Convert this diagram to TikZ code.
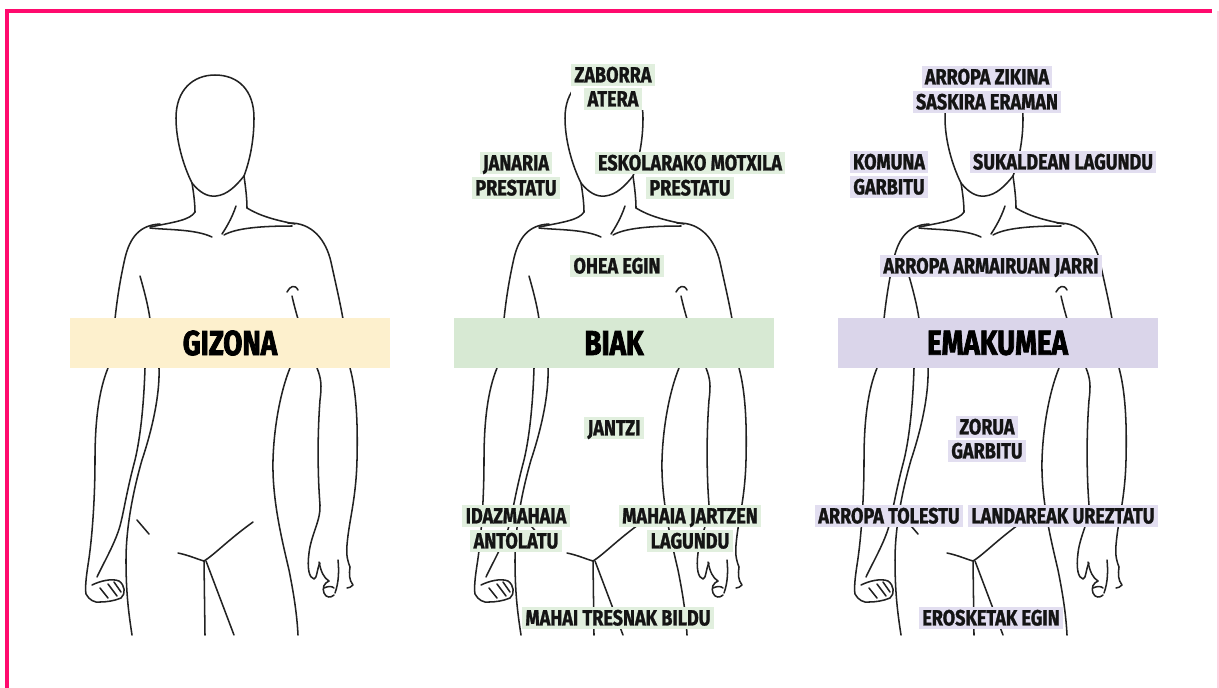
\documentclass[tikz,border=0pt]{standalone}
\usepackage{fontspec}
\newfontfamily\labfont{Fira Sans}[FakeStretch=0.82, BoldFeatures={FakeBold=1.2}]
\newfontfamily\bandfont{Fira Sans}[FakeStretch=0.8, BoldFeatures={FakeBold=2.2}]

\definecolor{framepink}{HTML}{FF0A6E}
\definecolor{framefaint}{HTML}{FFD3E2}
\definecolor{inkc}{HTML}{222222}
\definecolor{bandY}{HTML}{FDF0CD}
\definecolor{bandG}{HTML}{D7E9D3}
\definecolor{bandP}{HTML}{DAD5EA}
\definecolor{tagG}{HTML}{E1EFDE}
\definecolor{tagP}{HTML}{E2DEF0}

\pgfdeclarelayer{figures}
\pgfdeclarelayer{knockout}
\pgfsetlayers{figures,knockout,main}

\tikzset{
  ink/.style={draw=inkc, line width=1.15pt, line cap=round, line join=round},
  tag/.style={inner xsep=2.5pt, inner ysep=2.2pt, text height=11.4pt, text depth=0.3pt,
    font=\labfont\bfseries\fontsize{16.5}{18}\selectfont, text=black!92},
  tagG/.style={tag, fill=tagG},
  tagP/.style={tag, fill=tagP},
  band/.style={minimum width=240pt, minimum height=37.5pt, inner sep=0pt,
    font=\bandfont\bfseries\fontsize{26}{28}\selectfont, text=black},
  % standing figure, drawn in pixel units with y pointing down
  body/.pic={
    % head and chin
    \path[ink] (192,183) .. controls (183,165) and (176,140) .. (176,118)
      .. controls (176,90) and (193,75) .. (215,75)
      .. controls (238,75) and (254,90) .. (254,118)
      .. controls (254,140) and (250,160) .. (244,176);
    \path[ink] (192,183) .. controls (200,193) and (208,197) .. (216,196)
      .. controls (227,195) and (236,186) .. (244,176);
    % neck and shoulder line
    \path[ink] (192,183) .. controls (194,195) and (195,205) .. (195,212);
    \path[ink] (244,176) .. controls (246,190) and (247,200) .. (247,208);
    \path[ink] (195,212) .. controls (190,220) and (175,222) .. (150,227);
    \path[ink] (247,208) .. controls (260,216) and (275,220) .. (295,224);
    \path[ink] (236,206) .. controls (232,218) and (226,228) .. (222,234);
    % collarbones
    \path[ink] (150,228) .. controls (168,230) and (195,229) .. (212,237);
    \path[ink] (224,235) .. controls (236,228) and (262,226) .. (292,226);
    % upper arms
    \path[ink] (160,224) .. controls (140,225) and (130,237) .. (125,258)
      .. controls (120,280) and (117,300) .. (115,319);
    \path[ink] (288,223) .. controls (312,222) and (326,240) .. (331,262)
      .. controls (336,285) and (340,302) .. (343,319);
    \path[ink] (140,276) .. controls (144,290) and (148,305) .. (150,319);
    \path[ink] (287,292) .. controls (290,286) and (295,284) .. (298,290);
    \path[ink] (292,296) .. controls (294,305) and (296,312) .. (298,319);
    % left forearm and fist
    \path[ink] (108,368) .. controls (99,390) and (95,420) .. (95,460)
      .. controls (95,500) and (92,540) .. (88,565)
      .. controls (86,578) and (85,588) .. (86,594)
      .. controls (89,600) and (95,603) .. (100,602);
    \path[ink] (145,368) .. controls (144,400) and (141,435) .. (135,460)
      .. controls (127,490) and (124,510) .. (121,522)
      .. controls (117,540) and (104,562) .. (97,577);
    \path[ink] (92,585) .. controls (100,581) and (112,578) .. (119,581)
      .. controls (125,585) and (126,594) .. (121,598)
      .. controls (114,601) and (106,602) .. (100,602);
    \path[ink] (100,588) -- (108,598);
    \path[ink] (108,584) -- (117,596);
    \path[ink] (114,582) -- (121,592);
    % left side of torso and leg
    \path[ink] (159,368) .. controls (160,395) and (152,430) .. (142,460)
      .. controls (132,495) and (126,530) .. (126,560)
      .. controls (126,595) and (129,615) .. (132,635);
    \path[ink] (137,520) -- (149,534);
    % right forearm and hand
    \path[ink] (317,368) .. controls (321,378) and (322,385) .. (320,400)
      .. controls (317,440) and (318,480) .. (320,505)
      .. controls (321,520) and (311,535) .. (309,553)
      .. controls (307,568) and (309,578) .. (314,579)
      .. controls (317,579) and (317,568) .. (320,563);
    \path[ink] (319,562) .. controls (321,572) and (324,578) .. (329,581)
      .. controls (324,583) and (322,588) .. (324,593)
      .. controls (326,598) and (331,598) .. (334,595);
    \path[ink] (324,588) .. controls (328,586) and (332,586) .. (334,588);
    \path[ink] (338,560) .. controls (339,570) and (339,582) .. (335,593);
    \path[ink] (350,368) .. controls (356,390) and (358,420) .. (357,460)
      .. controls (356,500) and (349,520) .. (347,545)
      .. controls (346,556) and (348,562) .. (350,567)
      .. controls (349,574) and (349,580) .. (353,585)
      .. controls (351,587) and (349,588) .. (347,588);
    % right side of torso and leg
    \path[ink] (290,368) .. controls (281,390) and (274,425) .. (273,460)
      .. controls (272,500) and (282,540) .. (289,570)
      .. controls (294,595) and (297,615) .. (298,635);
    % groin and inner legs
    \path[ink] (178,553) .. controls (188,555) and (197,559) .. (204,561)
      .. controls (214,555) and (228,540) .. (253,522);
    \path[ink] (204,561) -- (205,635);
    \path[ink] (206,561) -- (234,635);
  }
}

\begin{document}
\begin{tikzpicture}[x=0.75pt, y=-0.75pt]
  \useasboundingbox (0,0) rectangle (1219,687);

  % paper and the three figures
  \begin{pgfonlayer}{figures}
    \fill[white] (0,0) rectangle (1219,687);
    \pic at (0,0) {body};
    \pic at (389,0) {body};
    \pic at (769,0) {body};
  \end{pgfonlayer}

  % page frame
  \draw[framepink, line width=3pt] (7,690) -- (7,11) -- (1212,11);
  \draw[framefaint, line width=1pt] (1218,11) -- (1218,690);

  % column headings
  \node[band, fill=bandY] (gizona)   at (230,343)   {GIZONA};
  \node[band, fill=bandG] (biak)     at (614,343)   {BIAK};
  \node[band, fill=bandP] (emakumea) at (997.5,343) {EMAKUMEA};

  % shared tasks
  \node[tagG] (zab1) at (613,75)  {ZABORRA};
  \node[tagG] (zab2) at (613,99)  {ATERA};
  \node[tagG] (jan1) at (516,163) {JANARIA};
  \node[tagG] (jan2) at (516,188) {PRESTATU};
  \node[tagG] (esk1) at (690,163) {ESKOLARAKO MOTXILA};
  \node[tagG] (esk2) at (690,188) {PRESTATU};
  \node[tagG] (ohea) at (617,266) {OHEA EGIN};
  \node[tagG] (jantzi) at (614,428) {JANTZI};
  \node[tagG] (ida1) at (516,516) {IDAZMAHAIA};
  \node[tagG] (ida2) at (516,541) {ANTOLATU};
  \node[tagG] (mah1) at (690,516) {MAHAIA JARTZEN};
  \node[tagG] (mah2) at (690,541) {LAGUNDU};
  \node[tagG] (tres) at (618,618) {MAHAI TRESNAK BILDU};

  % tasks of the woman
  \node[tagP] (arr1) at (987,77)  {ARROPA ZIKINA};
  \node[tagP] (arr2) at (987,102) {SASKIRA ERAMAN};
  \node[tagP] (kom1) at (889,162) {KOMUNA};
  \node[tagP] (kom2) at (889,187) {GARBITU};
  \node[tagP] (suk)  at (1063,162) {SUKALDEAN LAGUNDU};
  \node[tagP] (arm)  at (991,266) {ARROPA ARMAIRUAN JARRI};
  \node[tagP] (zor1) at (987,427) {ZORUA};
  \node[tagP] (zor2) at (987,451) {GARBITU};
  \node[tagP] (tol)  at (889,516) {ARROPA TOLESTU};
  \node[tagP] (lan)  at (1063,516) {LANDAREAK UREZTATU};
  \node[tagP] (ero)  at (991,618) {EROSKETAK EGIN};

  % keep the head outlines hidden behind the two-line labels on top
  \begin{pgfonlayer}{knockout}
    \fill[white] (zab1.north west) rectangle (zab2.south -| zab1.east);
    \fill[white] (arr2.west |- arr1.north) rectangle (arr2.south east);
  \end{pgfonlayer}
\end{tikzpicture}
\end{document}
